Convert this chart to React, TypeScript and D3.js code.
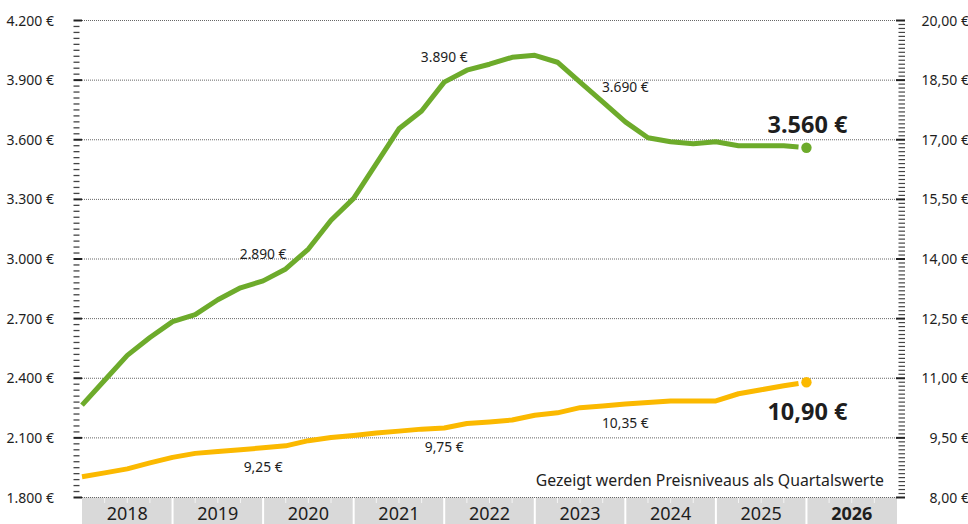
import React from "react";
import * as d3 from "d3";

const years = ["2018", "2019", "2020", "2021", "2022", "2023", "2024", "2025", "2026"];
const greenValues = [
  2265, 2390, 2515, 2605, 2685, 2720, 2795, 2855, 2890, 2950, 3050, 3195, 3305, 3480, 3655, 3745,
  3890, 3950, 3980, 4015, 4025, 3990, 3890, 3790, 3690, 3610, 3590, 3580, 3590, 3570, 3570, 3570, 3560,
];
const yellowValues = [
  8.52, 8.62, 8.72, 8.87, 9.01, 9.11, 9.16, 9.2, 9.25, 9.3, 9.43, 9.51, 9.56, 9.62, 9.67, 9.72,
  9.75, 9.86, 9.9, 9.95, 10.07, 10.13, 10.26, 10.3, 10.35, 10.39, 10.43, 10.43, 10.43, 10.61, 10.71, 10.81, 10.9,
];
const leftTicks = [1800, 2100, 2400, 2700, 3000, 3300, 3600, 3900, 4200];
const leftTickLabels = ["1.800 €", "2.100 €", "2.400 €", "2.700 €", "3.000 €", "3.300 €", "3.600 €", "3.900 €", "4.200 €"];
const rightTicks = [8, 9.5, 11, 12.5, 14, 15.5, 17, 18.5, 20];
const rightTickLabels = ["8,00 €", "9,50 €", "11,00 €", "12,50 €", "14,00 €", "15,50 €", "17,00 €", "18,50 €", "20,00 €"];
const annotationQuarters = [8, 16, 24];
const greenAnnotations = ["2.890 €", "3.890 €", "3.690 €"];
const yellowAnnotations = ["9,25 €", "9,75 €", "10,35 €"];
const greenEndLabel = "3.560 €";
const yellowEndLabel = "10,90 €";
const noteText = "Gezeigt werden Preisniveaus als Quartalswerte";

const W = 968;
const H = 524;
const GREEN = "#6dab2b";
const YELLOW = "#fbb900";
const TEXT = "#1e1e1e";
const FONT = "'Noto Sans', 'Open Sans', sans-serif";

export default function App() {
  const nQ = years.length * 4;
  const x = d3.scaleLinear().domain([0, nQ]).range([82, 897]);
  const yL = d3.scaleLinear().domain([1800, 4200]).range([497.5, 20.5]);
  const yR = d3.scaleLinear().domain([8, 20]).range([497.5, 20.5]);

  const endFrac = 0.65;
  const mkPts = (vals: number[]) => {
    const pts: [number, number][] = vals.slice(0, -1).map((v, i) => [i, v]);
    const n = vals.length - 1;
    const a = vals[n - 1];
    const b = vals[n];
    pts.push([n - 1 + endFrac, a + (b - a) * endFrac]);
    return pts;
  };
  const greenLine = d3
    .line<[number, number]>()
    .x((d) => x(d[0]))
    .y((d) => yL(d[1]))(mkPts(greenValues));
  const yellowLine = d3
    .line<[number, number]>()
    .x((d) => x(d[0]))
    .y((d) => yR(d[1]))(mkPts(yellowValues));

  const leftMinor = d3.range(1800, 4201, 30);
  const rightMinor = d3.range(80, 201).map((v) => v / 10);
  const greenDy = [-22, -20, -30];
  const yellowDy = [24, 24, 24];
  const lastIdx = greenValues.length - 1;

  return (
    <svg
      width={W}
      height={H}
      style={{ position: "absolute", left: 0, top: 0, background: "#fff" }}
      fontFamily={FONT}
    >
      {/* x band */}
      <rect x={x(0)} y={497.5} width={x(nQ) - x(0)} height={H - 497.5 + 2} fill="#d9d9d9" />
      {d3.range(1, nQ)
        .filter((k) => k % 4 !== 0)
        .map((k) => (
          <line key={"q" + k} x1={x(k)} x2={x(k)} y1={498} y2={503} stroke="#f4f4f4" strokeWidth={1} />
        ))}
      {d3.range(4, nQ, 4).map((k) => (
        <line key={"s" + k} x1={x(k)} x2={x(k)} y1={497.5} y2={H} stroke="#fff" strokeWidth={2} />
      ))}
      {years.map((yr, i) => (
        <text
          key={yr}
          x={x(i * 4 + 2)}
          y={519.5}
          textAnchor="middle"
          fontSize={18}
          fontWeight={i === years.length - 1 ? 700 : 400}
          fill={TEXT}
        >
          {yr}
        </text>
      ))}

      {/* grid */}
      {leftTicks.map((t) => (
        <line
          key={"g" + t}
          x1={x(0)}
          x2={x(nQ)}
          y1={yL(t)}
          y2={yL(t)}
          stroke="#666"
          strokeWidth={1}
          strokeDasharray="1 1"
        />
      ))}

      {/* left axis ticks */}
      {leftMinor.map((t, i) => (
        <line
          key={"lm" + t}
          x1={73.5}
          x2={i % 10 === 0 ? 82 : 79.5}
          y1={yL(t)}
          y2={yL(t)}
          stroke={i % 10 === 0 ? "#222" : "#444"}
          strokeWidth={i % 10 === 0 ? 2 : 1.3}
        />
      ))}
      {leftTicks.map((t, i) => (
        <text key={"ll" + t} x={54} y={yL(t) + 5} textAnchor="end" fontSize={14} fill={TEXT}>
          {leftTickLabels[i]}
        </text>
      ))}

      {/* right axis ticks */}
      {rightMinor.map((t, i) => (
        <line
          key={"rm" + i}
          x1={i % 15 === 0 ? 896 : 898.5}
          x2={905}
          y1={yR(t)}
          y2={yR(t)}
          stroke={i % 15 === 0 ? "#222" : "#444"}
          strokeWidth={i % 15 === 0 ? 2 : 1.2}
        />
      ))}
      {rightTicks.map((t, i) => (
        <text key={"rl" + t} x={969} y={yR(t) + 5} textAnchor="end" fontSize={14} fill={TEXT}>
          {rightTickLabels[i]}
        </text>
      ))}

      {/* note */}
      <text x={884} y={486} textAnchor="end" fontSize={15.8} fill={TEXT}>
        {noteText}
      </text>

      {/* lines */}
      <path d={greenLine || ""} fill="none" stroke={GREEN} strokeWidth={5} strokeLinejoin="round" />
      <path d={yellowLine || ""} fill="none" stroke={YELLOW} strokeWidth={5} strokeLinejoin="round" />
      <circle cx={x(lastIdx)} cy={yL(greenValues[lastIdx])} r={5.2} fill={GREEN} />
      <circle cx={x(lastIdx)} cy={yR(yellowValues[lastIdx])} r={5.2} fill={YELLOW} />

      {/* annotations */}
      {annotationQuarters.map((q, i) => (
        <text
          key={"ga" + q}
          x={x(q)}
          y={yL(greenValues[q]) + greenDy[i]}
          textAnchor="middle"
          fontSize={13.8}
          fill={TEXT}
        >
          {greenAnnotations[i]}
        </text>
      ))}
      {annotationQuarters.map((q, i) => (
        <text
          key={"ya" + q}
          x={x(q)}
          y={yR(yellowValues[q]) + yellowDy[i]}
          textAnchor="middle"
          fontSize={13.8}
          fill={TEXT}
        >
          {yellowAnnotations[i]}
        </text>
      ))}
      <text
        x={x(lastIdx) + 41}
        y={yL(greenValues[lastIdx]) - 15}
        textAnchor="end"
        fontSize={23.5}
        fontWeight={700}
        fill={TEXT}
      >
        {greenEndLabel}
      </text>
      <text
        x={x(lastIdx) + 41}
        y={yR(yellowValues[lastIdx]) + 38}
        textAnchor="end"
        fontSize={23.5}
        fontWeight={700}
        fill={TEXT}
      >
        {yellowEndLabel}
      </text>
    </svg>
  );
}
